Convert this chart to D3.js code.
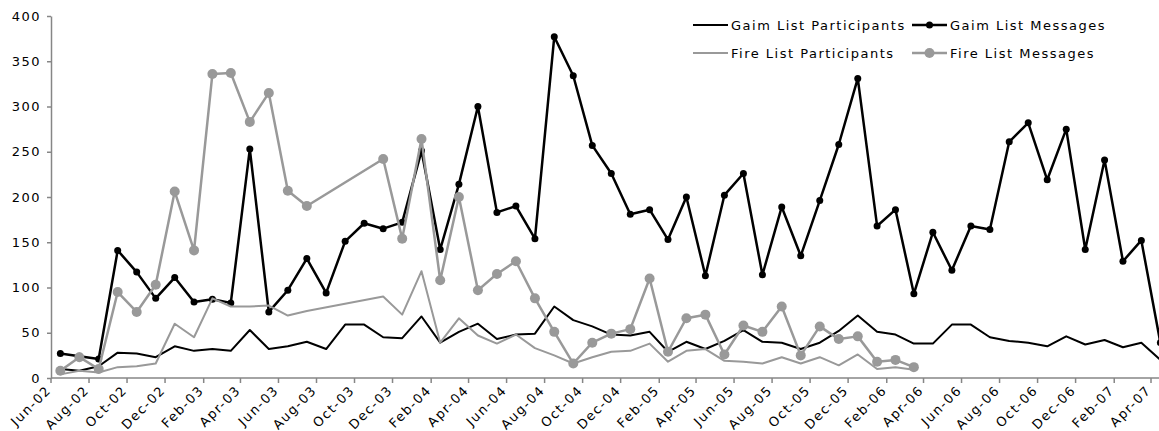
<!DOCTYPE html>
<html>
<head>
<meta charset="utf-8">
<script src="https://cdn.jsdelivr.net/npm/d3@7"></script>
<style>
  body { margin: 0; background: #fff; }
  svg text { font-family: "DejaVu Sans", Verdana, sans-serif; font-size: 13px; letter-spacing: 1.5px; fill: #000; }
</style>
</head>
<body>
<div id="chart"></div>
<script>
// monthly counts, one value per month (mid-month on a date axis)
const months = ["Jun-02","Jul-02","Aug-02","Sep-02","Oct-02","Nov-02","Dec-02",
  "Jan-03","Feb-03","Mar-03","Apr-03","May-03","Jun-03","Jul-03","Aug-03","Sep-03","Oct-03","Nov-03","Dec-03",
  "Jan-04","Feb-04","Mar-04","Apr-04","May-04","Jun-04","Jul-04","Aug-04","Sep-04","Oct-04","Nov-04","Dec-04",
  "Jan-05","Feb-05","Mar-05","Apr-05","May-05","Jun-05","Jul-05","Aug-05","Sep-05","Oct-05","Nov-05","Dec-05",
  "Jan-06","Feb-06","Mar-06","Apr-06","May-06","Jun-06","Jul-06","Aug-06","Sep-06","Oct-06","Nov-06","Dec-06",
  "Jan-07","Feb-07","Mar-07","Apr-07"];

const tickLabels = ["Jun-02","Aug-02","Oct-02","Dec-02","Feb-03","Apr-03","Jun-03","Aug-03","Oct-03","Dec-03",
  "Feb-04","Apr-04","Jun-04","Aug-04","Oct-04","Dec-04","Feb-05","Apr-05","Jun-05","Aug-05",
  "Oct-05","Dec-05","Feb-06","Apr-06","Jun-06","Aug-06","Oct-06","Dec-06","Feb-07","Apr-07"];

const yTicks = [0, 50, 100, 150, 200, 250, 300, 350, 400];

const gaimParticipants = [10,8,13,28,27,23,35,30,32,30,53,32,35,40,32,59,59,45,44,68,
  39,51,60,43,48,49,79,64,57,48,47,51,29,40,32,41,53,40,39,32,
  39,52,69,51,48,38,38,59,59,45,41,39,35,46,37,42,34,39,20];

const gaimMessages = [27,24,21,141,117,88,111,84,87,83,253,73,97,132,94,151,171,165,172,251,
  142,214,300,183,190,154,377,334,257,226,181,186,153,200,113,202,226,114,189,135,
  196,258,331,168,186,93,161,119,168,164,261,282,219,275,142,241,129,152,39];

// fire list stops after Apr-06, and has no data for Aug-03..Oct-03
const fireParticipants = [4,8,6,12,13,16,60,45,88,79,79,80,69,74,null,null,null,90,70,118,
  39,66,47,38,48,33,25,16,23,29,30,38,18,30,32,19,18,16,23,16,
  23,14,26,10,12,9];

const fireMessages = [8,23,10,95,73,103,206,141,336,337,283,315,207,190,null,null,null,242,154,264,
  108,200,97,115,129,88,51,16,39,49,54,110,29,66,70,26,58,51,79,25,
  57,43,46,18,20,12];

const width = 1159, height = 431;
const margin = {top: 16, left: 51, bottom: 53};

const parse = d3.timeParse("%b-%y");

const svg = d3.select("#chart").append("svg")
  .attr("width", width)
  .attr("height", height);

// date axis; last point (Apr-07) lands on the right edge and gets cut
const x = d3.scaleTime()
  .domain([parse("Jun-02"), parse("Apr-07")])
  .range([margin.left, 1151]);

const y = d3.scaleLinear()
  .domain([0, 400])
  .range([height - margin.bottom, margin.top]);

// point sits half way through its month
const xMid = m => {
  const d = parse(m);
  return (x(d) + x(d3.timeMonth.offset(d, 1))) / 2;
};

const axisColor = "#868686";

// x axis
const gx = svg.append("g")
  .attr("transform", `translate(0,${y(0)})`);
gx.append("line")
  .attr("x1", margin.left).attr("x2", width)
  .attr("stroke", axisColor).attr("stroke-width", 1.5);
gx.call(g => g.selectAll(".tick")
  .data(tickLabels)
  .join("g")
  .attr("class", "tick")
  .attr("transform", d => `translate(${x(parse(d))},0)`)
  .call(t => t.append("line").attr("y2", 5).attr("stroke", axisColor).attr("stroke-width", 1.5))
  .call(t => t.append("text")
    .text(d => d)
    .attr("text-anchor", "end")
    .attr("transform", "translate(1,13) rotate(-45)")));

// y axis
const gy = svg.append("g")
  .attr("transform", `translate(${margin.left},0)`)
  .call(d3.axisLeft(y).tickValues(yTicks).tickSize(4).tickPadding(6).tickSizeOuter(0));
gy.attr("font-family", null).attr("font-size", null);
gy.select(".domain").attr("stroke", axisColor).attr("stroke-width", 1.5);
gy.selectAll(".tick line").attr("stroke", axisColor).attr("stroke-width", 1.5);

const series = [
  {name: "Gaim List Participants", values: gaimParticipants, color: "#000", width: 2, r: 0},
  {name: "Gaim List Messages", values: gaimMessages, color: "#000", width: 2.5, r: 3.5},
  {name: "Fire List Participants", values: fireParticipants, color: "#999", width: 2, r: 0},
  {name: "Fire List Messages", values: fireMessages, color: "#999", width: 2.5, r: 5}
];

const line = d3.line()
  .x(d => xMid(d.month))
  .y(d => y(d.value));

for (const s of series) {
  // gaps are bridged, like the original chart
  const pts = months.map((m, i) => ({month: m, value: s.values[i]}))
    .filter(d => d.value != null);

  svg.append("path")
    .datum(pts)
    .attr("fill", "none")
    .attr("stroke", s.color)
    .attr("stroke-width", s.width)
    .attr("stroke-linejoin", "round")
    .attr("d", line);

  if (s.r) {
    svg.append("g").selectAll("circle")
      .data(pts)
      .join("circle")
      .attr("cx", d => xMid(d.month))
      .attr("cy", d => y(d.value))
      .attr("r", s.r)
      .attr("fill", s.color);
  }
}

// legend, two by two
const legendPos = [[693, 25], [912, 25], [693, 53], [912, 53]];
const legend = svg.append("g").selectAll("g")
  .data(series)
  .join("g")
  .attr("transform", (d, i) => `translate(${legendPos[i][0]},${legendPos[i][1]})`);

legend.append("line")
  .attr("x1", 0).attr("x2", 35)
  .attr("stroke", d => d.color)
  .attr("stroke-width", d => d.width);
legend.filter(d => d.r).append("circle")
  .attr("cx", 17.5)
  .attr("r", d => d.r)
  .attr("fill", d => d.color);
legend.append("text")
  .attr("x", 38)
  .attr("dy", "0.36em")
  .text(d => d.name);
</script>
</body>
</html>
